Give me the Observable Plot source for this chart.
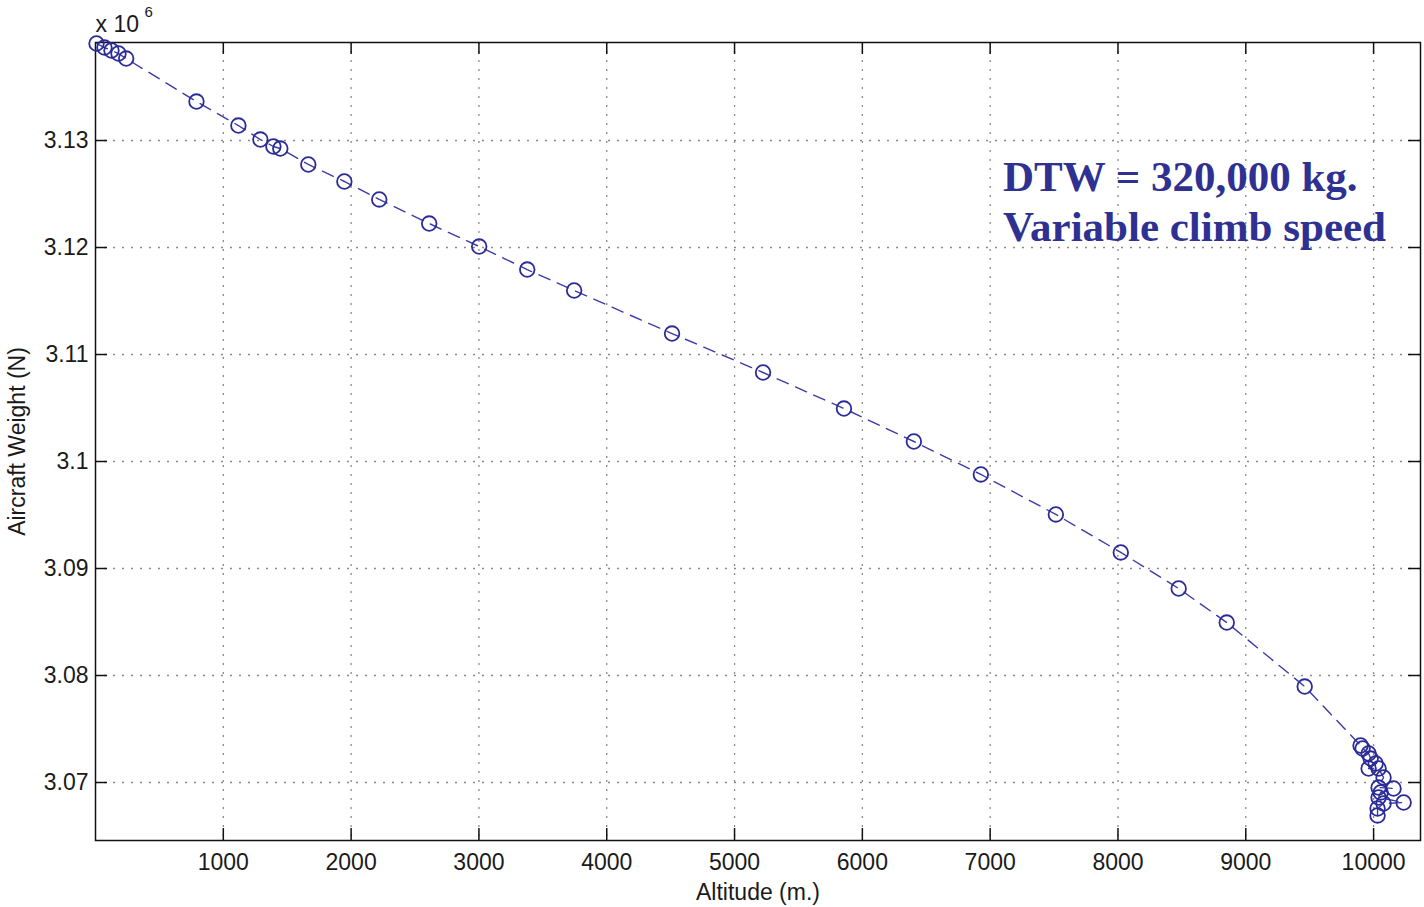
<!DOCTYPE html>
<html>
<head>
<meta charset="utf-8">
<script src="https://cdn.jsdelivr.net/npm/d3@7"></script>
<script src="https://cdn.jsdelivr.net/npm/@observablehq/plot@0.6"></script>
<style>
  html, body { margin: 0; padding: 0; background: #fff; }
  #chart svg { display: block; }
</style>
</head>
<body>
<div id="chart"></div>
<script>
// Altitude (m.) and aircraft weight (x 10^6 N), in flight order (weight decreasing)
const altitude = [8, 70, 125, 180, 240, 790, 1118, 1290, 1392, 1446, 1665, 1947, 2220, 2611, 3002, 3378, 3745, 4511, 5223, 5856, 6403, 6927, 7514, 8022, 8475, 8851, 9461,
  9898, 9914, 9961, 9977, 10016, 9961, 10039, 10078, 10039, 10156, 10055, 10039, 10235, 10078, 10031, 10031];
const weight = [3.13907, 3.13869, 3.13841, 3.13813, 3.13766, 3.13364, 3.1314, 3.13009, 3.12944, 3.12925, 3.12776, 3.12617, 3.12449, 3.12224, 3.12009, 3.11794, 3.11598, 3.11196, 3.10832, 3.10495, 3.10187, 3.09879, 3.09505, 3.0915, 3.08813, 3.08495, 3.07897,
  3.07346, 3.07318, 3.07271, 3.07224, 3.07178, 3.07131, 3.07131, 3.07047, 3.06953, 3.06944, 3.06907, 3.0686, 3.06813, 3.06804, 3.06757, 3.06692];
const xTicks = [1000, 2000, 3000, 4000, 5000, 6000, 7000, 8000, 9000, 10000];
const xTickLabels = ["1000", "2000", "3000", "4000", "5000", "6000", "7000", "8000", "9000", "10000"];
const yTicks = [3.07, 3.08, 3.09, 3.1, 3.11, 3.12, 3.13];
const yTickLabels = ["3.07", "3.08", "3.09", "3.1", "3.11", "3.12", "3.13"];
const xDomain = [0, 10367];
const yDomain = [3.06458, 3.13916];
const annotation = ["DTW = 320,000 kg.\nVariable climb speed"];
const annotationPos = {x: 7100, y: 3.12448};

const data = altitude.map((a, i) => ({alt: a, w: weight[i]}));

const W = 1424, H = 907;
const mL = 95, mR = 4, mT = 42, mB = 67;
const plotW = W - mL - mR, plotH = H - mT - mB;
const tickLen = 12;
const blue = "#2b2b98";
const ink = "#1a1a1a";
const font = "'Liberation Sans', Arial, Helvetica, sans-serif";

const chart = Plot.plot({
  width: W,
  height: H,
  marginLeft: mL, marginRight: mR, marginTop: mT, marginBottom: mB,
  style: {fontFamily: font, fontSize: "23px", color: ink, background: "#fff"},
  x: {domain: xDomain, label: null},
  y: {domain: yDomain, label: null},
  marks: [
    Plot.gridX(xTicks, {stroke: "#8a8a8a", strokeOpacity: 1, strokeDasharray: "2,7", strokeWidth: 1.3}),
    Plot.gridY(yTicks, {stroke: "#8a8a8a", strokeOpacity: 1, strokeDasharray: "2,7", strokeWidth: 1.3}),
    Plot.frame({stroke: "#111", strokeWidth: 1.5}),
    // inward ticks on all four sides
    Plot.tickX(xTicks, {x: d => d, stroke: "#111", strokeWidth: 1.5, insetTop: plotH - tickLen}),
    Plot.tickX(xTicks, {x: d => d, stroke: "#111", strokeWidth: 1.5, insetBottom: plotH - tickLen}),
    Plot.tickY(yTicks, {y: d => d, stroke: "#111", strokeWidth: 1.5, insetRight: plotW - tickLen}),
    Plot.tickY(yTicks, {y: d => d, stroke: "#111", strokeWidth: 1.5, insetLeft: plotW - tickLen}),
    Plot.axisX({ticks: xTicks, tickSize: 0, tickPadding: 13, label: null, tickFormat: d => xTickLabels[xTicks.indexOf(d)], fontSize: 23, fill: ink}),
    Plot.axisY({ticks: yTicks, tickSize: 0, tickPadding: 7, label: null, tickFormat: d => yTickLabels[yTicks.indexOf(d)], fontSize: 23, fill: ink}),
    // data
    Plot.line(data, {x: "alt", y: "w", stroke: "#3b3ba6", strokeWidth: 1.4, strokeDasharray: "12,8"}),
    Plot.dot(data, {x: "alt", y: "w", r: 7.3, stroke: blue, strokeWidth: 1.8, fill: "none"}),
    // labels
    Plot.text(["Altitude (m.)"], {frameAnchor: "bottom", dy: 59, fontSize: 23, fill: ink}),
    Plot.text(["Aircraft Weight (N)"], {frameAnchor: "left", textAnchor: "middle", dx: -78, rotate: -90, fontSize: 23, fill: ink}),
    Plot.text(["x 10"], {frameAnchor: "top-left", dx: 0, dy: -27, textAnchor: "start", fontSize: 23, fill: ink}),
    Plot.text(["6"], {frameAnchor: "top-left", dx: 49, dy: -36, textAnchor: "start", fontSize: 15, fill: ink}),
    Plot.text(annotation, {x: () => annotationPos.x, y: () => annotationPos.y, textAnchor: "start", lineAnchor: "middle", lineHeight: 1.17,
      fontFamily: "'Liberation Serif', 'Times New Roman', serif", fontWeight: "bold", fontSize: 43, fill: "#2e3192"})
  ]
});
document.getElementById("chart").appendChild(chart);
</script>
</body>
</html>
